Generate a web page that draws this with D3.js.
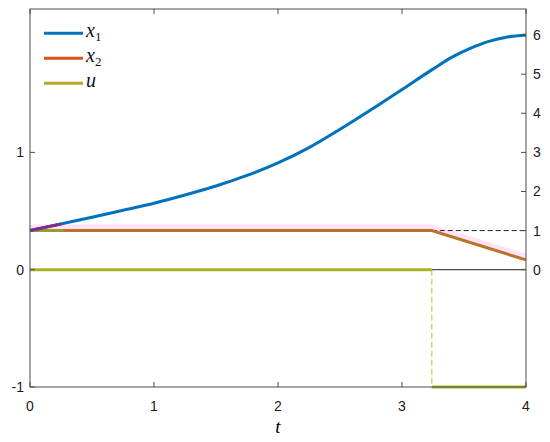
<!DOCTYPE html>
<html><head><meta charset="utf-8">
<script src="https://cdn.jsdelivr.net/npm/d3@7"></script>
<style>body{margin:0;background:#fff}svg{display:block}</style>
</head><body>
<svg id="c" width="550" height="442"></svg>
<script>
// ---- data ----
const tX1 = [0,0.25,0.5,0.75,1.0,1.25,1.5,1.75,2.0,2.25,2.5,2.75,3.0,3.24,3.4,3.55,3.7,3.85,4.0];
const x1 = [1,1.17,1.34,1.52,1.70,1.91,2.14,2.41,2.73,3.12,3.59,4.09,4.61,5.11,5.43,5.66,5.84,5.95,6.0];
const tX2 = [0,3.24,4];
const x2 = [1,1,0.25];
const tU = [0,3.24,3.24,4];
const u = [0,0,-1,-1];
const tSwitch = 3.24;
const xTicks = [0,1,2,3,4];
const leftTicks = [-1,0,1];
const rightTicks = [0,1,2,3,4,5,6];
const legendLabels = [["x","1"],["x","2"],["u",""]];

// ---- layout ----
const svg = d3.select("#c");
const L = 30, R = 526, T = 9, B = 387;
const x = d3.scaleLinear().domain([0,4]).range([L,R]);
const yl = d3.scaleLinear().domain([-1,2.2222]).range([B,T]);
const yr = d3.scaleLinear().domain([-3,6.6667]).range([B,T]);

const cBlue = "#0072BD", cOrange = "#D95319", cBrown = "#B8752A", cOlive = "#A9B321",
      cPurple = "#7E2F8E", cPink = "#FFE2F6", axisC = "#4d4d4d";

const line = (xs, ys, sc, curve) => d3.line().x((d,i)=>x(xs[i])).y((d,i)=>sc(ys[i])).curve(curve||d3.curveLinear)(ys);

const g = svg.append("g");
// pink band along x2
g.append("path").attr("d", line(tX2, x2, yr)).attr("transform","translate(0,-3.8)")
  .attr("fill","none").attr("stroke",cPink).attr("stroke-width",4.5);
// black reference lines after switch
g.append("line").attr("x1",x(tSwitch)).attr("x2",x(4)).attr("y1",yr(1)).attr("y2",yr(1))
  .attr("stroke","#222").attr("stroke-width",1).attr("stroke-dasharray","5,3");
g.append("line").attr("x1",x(tSwitch)).attr("x2",x(4)).attr("y1",yl(0)).attr("y2",yl(0))
  .attr("stroke","#222").attr("stroke-width",1);
// u dashed vertical
g.append("line").attr("x1",x(tSwitch)).attr("x2",x(tSwitch)).attr("y1",yl(0)).attr("y2",yl(-1))
  .attr("stroke","#c9d86a").attr("stroke-width",1.5).attr("stroke-dasharray","6,3");
// u horizontal segments
g.append("path").attr("d", line(tU.slice(0,2), u.slice(0,2), yl)).attr("fill","none").attr("stroke",cOlive).attr("stroke-width",3);
g.append("path").attr("d", line(tU.slice(2), u.slice(2), yl)).attr("fill","none").attr("stroke",cOlive).attr("stroke-width",3);
// x2
g.append("path").attr("d", line(tX2, x2, yr)).attr("fill","none").attr("stroke",cBrown).attr("stroke-width",3);
g.append("line").attr("x1",x(0)).attr("x2",x(0.27)).attr("y1",yr(1)).attr("y2",yr(1))
  .attr("stroke","#9c9a30").attr("stroke-width",3);
// x1
const smooth = d3.curveCatmullRom.alpha(0.5);
g.append("path").attr("d", line(tX1, x1, yr, smooth)).attr("fill","none").attr("stroke",cBlue).attr("stroke-width",3);
g.append("path").attr("d", line(tX1.slice(0,2), x1.slice(0,2), yr, smooth)).attr("fill","none").attr("stroke",cPurple).attr("stroke-width",3);

// ---- axes ----
const ax = svg.append("g").attr("font-family","Liberation Sans, Arial, sans-serif").attr("font-size",14).attr("fill","#1a1a1a");
ax.append("rect").attr("x",L).attr("y",T).attr("width",R-L).attr("height",B-T)
  .attr("fill","none").attr("stroke",axisC).attr("stroke-width",1);
xTicks.forEach(v=>{
  ax.append("line").attr("x1",x(v)).attr("x2",x(v)).attr("y1",B).attr("y2",B-5).attr("stroke",axisC);
  ax.append("line").attr("x1",x(v)).attr("x2",x(v)).attr("y1",T).attr("y2",T+5).attr("stroke",axisC);
  ax.append("text").attr("x",x(v)).attr("y",B+24).attr("text-anchor","middle").text(v);
});
leftTicks.forEach(v=>{
  ax.append("line").attr("x1",L).attr("x2",L+5).attr("y1",yl(v)).attr("y2",yl(v)).attr("stroke",axisC);
  ax.append("text").attr("x",L-6).attr("y",yl(v)+5).attr("text-anchor","end").text(v);
});
rightTicks.forEach(v=>{
  ax.append("line").attr("x1",R).attr("x2",R-5).attr("y1",yr(v)).attr("y2",yr(v)).attr("stroke",axisC);
  ax.append("text").attr("x",R+7).attr("y",yr(v)+5).attr("text-anchor","start").text(v);
});
svg.append("text").attr("x",x(2)).attr("y",433).attr("text-anchor","middle")
  .attr("font-family","Liberation Serif, Times New Roman, serif").attr("font-style","italic").attr("font-size",19).text("t");

// ---- legend ----
const legColors = [cBlue, cOrange, "#B3A82E"];
legendLabels.forEach((lab,i)=>{
  const yy = 33.3 + i*25;
  svg.append("line").attr("x1",44).attr("x2",83).attr("y1",yy).attr("y2",yy).attr("stroke",legColors[i]).attr("stroke-width",3);
  const t = svg.append("text").attr("x",86).attr("y",yy+4).attr("font-family","Liberation Serif, Times New Roman, serif")
    .attr("font-style","italic").attr("font-size",20).attr("fill","#111");
  t.append("tspan").text(lab[0]);
  if (lab[1]) t.append("tspan").attr("dy",4).attr("font-size",13).attr("font-style","normal").text(lab[1]);
});
</script>
</body></html>
